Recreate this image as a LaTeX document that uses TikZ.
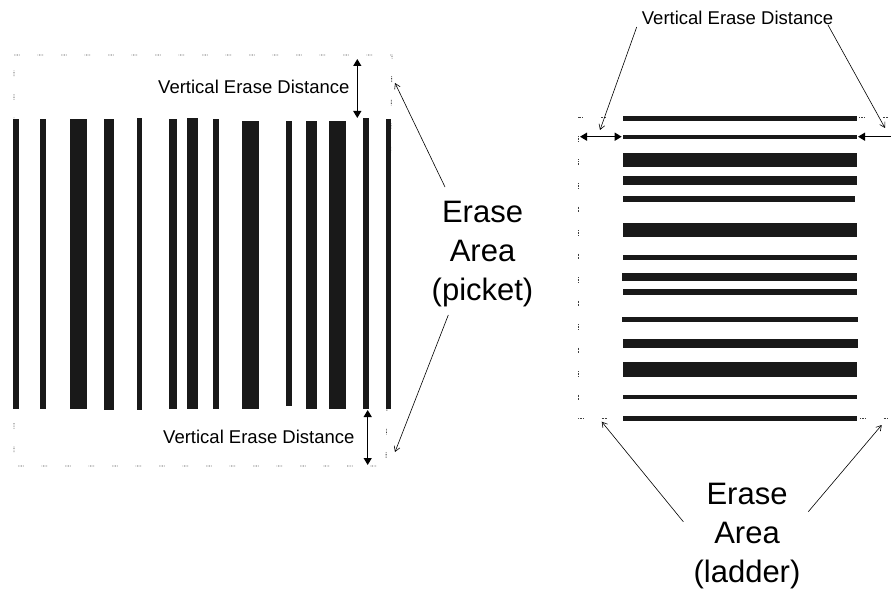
\documentclass[tikz,border=0pt]{standalone}
\usepackage{fontspec}
\setmainfont{Liberation Sans}
\usetikzlibrary{arrows.meta}
\begin{document}
\begin{tikzpicture}[x=1pt,y=-1pt,
  bar/.style={fill=black!90},
  eraseframe/.style={draw=black!75, line width=0.9pt,
    dash pattern=on 0.7pt off 0.9pt on 0.7pt off 0.9pt on 0.7pt off 0.9pt on 0.7pt off 18pt},
  dimarrow/.style={line width=1.3pt, {Triangle[length=7pt,width=8pt]}-{Triangle[length=7pt,width=8pt]}},
  dimarrowone/.style={line width=1.3pt, -{Triangle[length=7pt,width=8pt]}},
  callout/.style={line width=0.6pt, -{Straight Barb[length=5pt,width=6pt]}},
  dimlabel/.style={font=\fontsize{18.5}{21}\selectfont, inner sep=0pt, anchor=base west},
  arealabel/.style={font=\fontsize{31}{39}\selectfont, align=center, inner sep=0pt, anchor=north}
]
\useasboundingbox (0,0) rectangle (891,591);

% ---------- picket ----------
\draw[eraseframe] (14,55) -- (392,55) -- (386,466) -- (14,466) -- cycle;
\foreach \a/\b/\c/\d in {13.3/119/19/409, 40/119/46/409, 70/119/87.3/409,
  104/119/114/410, 136.7/118/142.3/410, 169.3/119/176.7/409, 186.7/118/197.7/409,
  213.3/119/219.3/409, 242/120.7/259/409, 286/120.7/291.7/406, 305.7/120.7/317.3/409,
  328.7/120.7/345.7/409, 362.7/118/368.7/409, 385.7/119/391.3/409}
  \fill[bar] (\a,\b) rectangle (\c,\d);

\node[dimlabel] (ptop) at (158,94) {Vertical Erase Distance};
\node[dimlabel] (pbot) at (163,443) {Vertical Erase Distance};
\coordinate (ptA) at (357.3,59);
\coordinate (ptB) at (357.3,118);
\coordinate (pbA) at (367.7,410);
\coordinate (pbB) at (367.7,465);
\draw[dimarrow] (ptA) -- (ptB);
\draw[dimarrow] (pbA) -- (pbB);

\node[arealabel] (picket) at (482.5,201) {Erase\\Area\\(picket)};
\coordinate (pc1s) at (445,187);
\coordinate (pc1e) at (395,83);
\coordinate (pc2s) at (448.3,315);
\coordinate (pc2e) at (395,452);
\draw[callout] (pc1s) -- (pc1e);
\draw[callout] (pc2s) -- (pc2e);

% ---------- ladder ----------
\draw[eraseframe] (888,117) -- (578,117) -- (578,418) -- (888,418);
\foreach \a/\b/\c/\d in {622.7/116/856.7/120.7, 622.7/134.7/856.7/139.3,
  622.7/153.3/856.7/167.3, 622.7/176/856.7/184.7, 622.7/196/855/201.7,
  622.7/222.7/856.7/237.3, 622.7/255.3/856.7/260, 621.7/272.7/856.7/281.3,
  622.7/289.3/856.7/295.3, 621.7/316.7/857.7/322.3, 622.7/339.3/858/348,
  622.7/362/857/376.7, 622.7/394.7/856.7/399.3, 622.7/416/856.7/421.3}
  \fill[bar] (\a,\b) rectangle (\c,\d);

\node[dimlabel] (ltop) at (641.7,25) {Vertical Erase Distance};
\coordinate (lhA) at (580,136.7);
\coordinate (lhB) at (621.7,136.7);
\coordinate (rhA) at (891,136.7);
\coordinate (rhB) at (858,136.7);
\draw[dimarrow] (lhA) -- (lhB);
\draw[dimarrowone] (rhA) -- (rhB);
\coordinate (lc1s) at (636.7,27);
\coordinate (lc1e) at (600,130);
\coordinate (lc2s) at (828,25);
\coordinate (lc2e) at (885,128);
\draw[callout] (lc1s) -- (lc1e);
\draw[callout] (lc2s) -- (lc2e);

\node[arealabel] (ladder) at (747,483) {Erase\\Area\\(ladder)};
\coordinate (lc3s) at (683.3,521.7);
\coordinate (lc3e) at (601.7,421.7);
\coordinate (lc4s) at (808.3,511.7);
\coordinate (lc4e) at (881.7,425);
\draw[callout] (lc3s) -- (lc3e);
\draw[callout] (lc4s) -- (lc4e);
\end{tikzpicture}
\end{document}
